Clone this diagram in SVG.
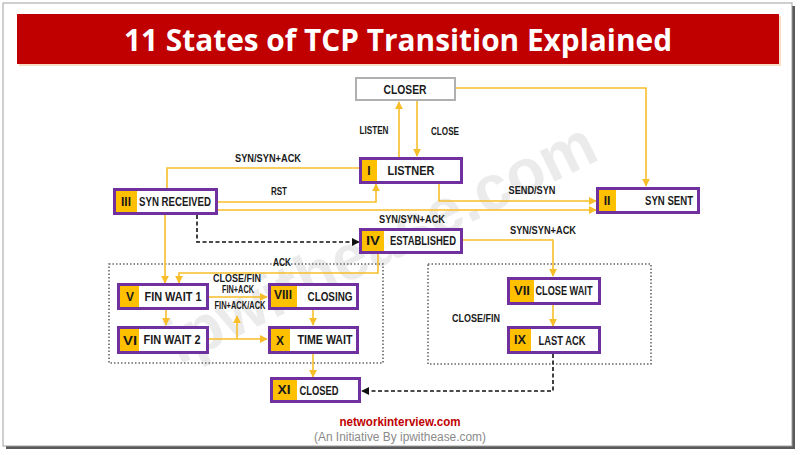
<svg xmlns="http://www.w3.org/2000/svg" width="800" height="455" viewBox="0 0 800 455">
<style>
.nbox{fill:#fff;stroke:#7030A0;stroke-width:3}
.num{fill:#FFC000}
.nt{font-family:"Liberation Sans",Arial,sans-serif;font-weight:bold;font-size:13px;fill:#1a1a1a;text-anchor:middle}
.rn{font-family:"Liberation Sans",Arial,sans-serif;font-weight:bold;font-size:12px;fill:#1a1a1a;text-anchor:middle}
.lb{font-family:"Liberation Sans",Arial,sans-serif;font-weight:bold;font-size:10.5px;fill:#1a1a1a;text-anchor:middle}
.c{fill:none;stroke:#F7BE2A;stroke-width:1.6}
.d{fill:none;stroke:#111;stroke-width:1.6;stroke-dasharray:4 2.5}
.dot{fill:none;stroke:#666;stroke-width:1.6;stroke-dasharray:1.5 2}
</style>
<defs>
<marker id="ay" viewBox="0 0 10 10" refX="9" refY="5" markerWidth="5" markerHeight="5" orient="auto"><path d="M0,0 L10,5 L0,10 z" fill="#F7BE2A"/></marker>
<marker id="ab" viewBox="0 0 10 10" refX="9" refY="5" markerWidth="5" markerHeight="5" orient="auto"><path d="M0,0 L10,5 L0,10 z" fill="#111"/></marker>
</defs>
<rect x="0" y="0" width="800" height="455" fill="#fff"/>
<rect x="6" y="6" width="789" height="443" fill="#5a5a5a"/>
<rect x="3" y="3" width="789" height="443" fill="#fff" stroke="#a0a0a0" stroke-width="1"/>
<g id="title">
<rect x="19" y="16" width="762" height="50" fill="#f0c8a0" opacity="0.6"/>
<rect x="17" y="14" width="762" height="50" fill="#C00000"/>
<text x="398" y="51" font-family="'Open Sans','Liberation Sans',Arial,sans-serif" font-weight="bold" font-size="31" fill="#fff" text-anchor="middle" textLength="548" lengthAdjust="spacingAndGlyphs">11 States of TCP Transition Explained</text>
</g>
<text x="390" y="262" transform="rotate(-26 390 262)" font-family="'Liberation Sans',Arial,sans-serif" font-weight="bold" font-size="64" fill="#000" opacity="0.075" text-anchor="middle" textLength="470" lengthAdjust="spacingAndGlyphs">ipwithease.com</text>
<g id="groups">
<rect class="dot" x="109" y="264" width="274" height="99"/>
<rect class="dot" x="428" y="264" width="223" height="100"/>
</g>
<g id="connectors">
<path class="c" d="M399,157 V102" marker-end="url(#ay)"/>
<path class="c" d="M417,101 V156" marker-end="url(#ay)"/>
<path class="c" d="M456,88 H646 V186" marker-end="url(#ay)"/>
<path class="c" d="M359,168 H167 V188"/>
<path class="c" d="M217,202 H376 V184" marker-end="url(#ay)"/>
<path class="c" d="M217,210 H596" marker-end="url(#ay)"/>
<path class="c" d="M439,183 V201 H596" marker-end="url(#ay)"/>
<path class="d" d="M197,215 V242 H359" marker-end="url(#ab)"/>
<path class="c" d="M165,215 V283" marker-end="url(#ay)"/>
<path class="c" d="M378,253 V273 H179 V283" marker-end="url(#ay)"/>
<path class="c" d="M208,297 H267" marker-end="url(#ay)"/>
<path class="c" d="M208,339 H267" marker-end="url(#ay)"/>
<path class="c" d="M237,339 V316" marker-end="url(#ay)"/>
<path class="c" d="M166,310 V325" marker-end="url(#ay)"/>
<path class="c" d="M313,310 V325" marker-end="url(#ay)"/>
<path class="c" d="M313,354 V377" marker-end="url(#ay)"/>
<path class="c" d="M463,240 H553 V276" marker-end="url(#ay)"/>
<path class="c" d="M553,305 V326" marker-end="url(#ay)"/>
<path class="d" d="M553,354 V391 H362" marker-end="url(#ab)"/>
<text class="lb" x="374" y="134" textLength="29" lengthAdjust="spacingAndGlyphs">LISTEN</text>
<text class="lb" x="445" y="135" textLength="28" lengthAdjust="spacingAndGlyphs">CLOSE</text>
<text class="lb" x="268" y="162" textLength="66" lengthAdjust="spacingAndGlyphs">SYN/SYN+ACK</text>
<text class="lb" x="279" y="195" textLength="16" lengthAdjust="spacingAndGlyphs">RST</text>
<text class="lb" x="532" y="194" textLength="47" lengthAdjust="spacingAndGlyphs">SEND/SYN</text>
<text class="lb" x="412" y="223" textLength="66" lengthAdjust="spacingAndGlyphs">SYN/SYN+ACK</text>
<text class="lb" x="543" y="234" textLength="66" lengthAdjust="spacingAndGlyphs">SYN/SYN+ACK</text>
<text class="lb" x="282" y="266" textLength="18" lengthAdjust="spacingAndGlyphs">ACK</text>
<text class="lb" x="237" y="282" font-size="11" textLength="48" lengthAdjust="spacingAndGlyphs">CLOSE/FIN</text>
<text class="lb" x="238" y="293" font-size="9" textLength="32" lengthAdjust="spacingAndGlyphs">FIN+ACK</text>
<text class="lb" x="240" y="309" font-size="9" textLength="51" lengthAdjust="spacingAndGlyphs">FIN+ACK/ACK</text>
<text class="lb" x="476" y="322" font-size="10.5" textLength="48" lengthAdjust="spacingAndGlyphs">CLOSE/FIN</text>
</g>
<g id="closer">
<rect x="356" y="78" width="99" height="22" fill="#fff" stroke="#b0b0b0" stroke-width="2"/>
<text class="nt" x="405" y="94" textLength="43" lengthAdjust="spacingAndGlyphs">CLOSER</text>
</g>
<g id="listner">
<rect class="nbox" x="360.5" y="158.5" width="101" height="24"/>
<rect class="num" x="362" y="160" width="15" height="21"/>
<text class="rn" x="369" y="175">I</text>
<text class="nt" x="411" y="175" textLength="47" lengthAdjust="spacingAndGlyphs">LISTNER</text>
</g>
<g id="syn-received">
<rect class="nbox" x="114.5" y="189.5" width="102" height="24"/>
<rect class="num" x="116" y="191" width="21" height="21"/>
<text class="rn" x="126" y="206" textLength="10" lengthAdjust="spacingAndGlyphs">III</text>
<text class="nt" x="175" y="206" textLength="72" lengthAdjust="spacingAndGlyphs">SYN RECEIVED</text>
</g>
<g id="syn-sent">
<rect class="nbox" x="597.5" y="188.5" width="101" height="24"/>
<rect class="num" x="599" y="190" width="17" height="21"/>
<text class="rn" x="607" y="205">II</text>
<text class="nt" x="669" y="205" textLength="48" lengthAdjust="spacingAndGlyphs">SYN SENT</text>
</g>
<g id="established">
<rect class="nbox" x="360.5" y="229.5" width="101" height="23"/>
<rect class="num" x="362" y="231" width="22" height="20"/>
<text class="rn" x="373" y="245" textLength="14" lengthAdjust="spacingAndGlyphs">IV</text>
<text class="nt" x="423" y="245" textLength="66" lengthAdjust="spacingAndGlyphs">ESTABLISHED</text>
</g>
<g id="fin-wait-1">
<rect class="nbox" x="118.5" y="284.5" width="89" height="24"/>
<rect class="num" x="120" y="286" width="19" height="21"/>
<text class="rn" x="130" y="301">V</text>
<text class="nt" x="173" y="301" textLength="57" lengthAdjust="spacingAndGlyphs">FIN WAIT 1</text>
</g>
<g id="closing">
<rect class="nbox" x="269.5" y="284.5" width="88" height="24"/>
<rect class="num" x="271" y="286" width="26" height="21"/>
<text class="rn" x="283" y="299" textLength="18" lengthAdjust="spacingAndGlyphs">VIII</text>
<text class="nt" x="330" y="301" textLength="45" lengthAdjust="spacingAndGlyphs">CLOSING</text>
</g>
<g id="fin-wait-2">
<rect class="nbox" x="118.5" y="327.5" width="89" height="25"/>
<rect class="num" x="120" y="329" width="19" height="22"/>
<text class="rn" x="130" y="345" textLength="14" lengthAdjust="spacingAndGlyphs">VI</text>
<text class="nt" x="172" y="344" textLength="57" lengthAdjust="spacingAndGlyphs">FIN WAIT 2</text>
</g>
<g id="time-wait">
<rect class="nbox" x="269.5" y="327.5" width="88" height="25"/>
<rect class="num" x="271" y="329" width="19" height="22"/>
<text class="rn" x="280" y="345">X</text>
<text class="nt" x="325" y="344" textLength="55" lengthAdjust="spacingAndGlyphs">TIME WAIT</text>
</g>
<g id="close-wait">
<rect class="nbox" x="508.5" y="278.5" width="91" height="25"/>
<rect class="num" x="510" y="280" width="24" height="22"/>
<text class="rn" x="522" y="295" textLength="16" lengthAdjust="spacingAndGlyphs">VII</text>
<text class="nt" x="564" y="295" textLength="57" lengthAdjust="spacingAndGlyphs">CLOSE WAIT</text>
</g>
<g id="last-ack">
<rect class="nbox" x="508.5" y="327.5" width="91" height="25"/>
<rect class="num" x="510" y="329" width="21" height="22"/>
<text class="rn" x="520" y="344" textLength="12" lengthAdjust="spacingAndGlyphs">IX</text>
<text class="nt" x="562" y="345" textLength="47" lengthAdjust="spacingAndGlyphs">LAST ACK</text>
</g>
<g id="closed">
<rect class="nbox" x="271.5" y="378.5" width="88" height="23"/>
<rect class="num" x="273" y="380" width="24" height="20"/>
<text class="rn" x="284" y="394" textLength="13" lengthAdjust="spacingAndGlyphs">XI</text>
<text class="nt" x="319" y="395" textLength="39" lengthAdjust="spacingAndGlyphs">CLOSED</text>
</g>
<g id="footer">
<text x="400" y="426" font-family="'Liberation Sans',Arial,sans-serif" font-weight="bold" font-size="12" fill="#C00000" text-anchor="middle" textLength="121" lengthAdjust="spacingAndGlyphs">networkinterview.com</text>
<text x="400" y="441" font-family="'Liberation Sans',Arial,sans-serif" font-size="12" fill="#8a8a8a" text-anchor="middle" textLength="172" lengthAdjust="spacingAndGlyphs">(An Initiative By ipwithease.com)</text>
</g>
</svg>
